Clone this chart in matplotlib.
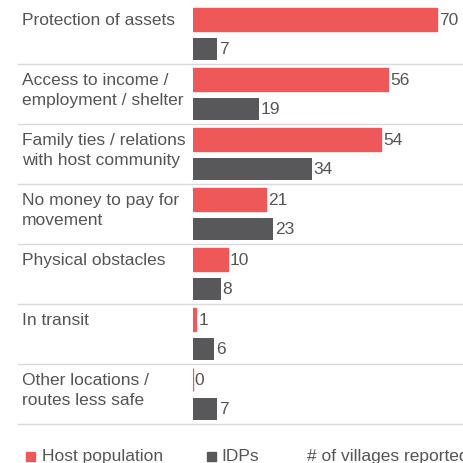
import matplotlib.pyplot as plt
from matplotlib.transforms import blended_transform_factory
from matplotlib.patches import Rectangle

plt.rcParams['font.family'] = ['Liberation Sans', 'DejaVu Sans']

# reasons for choosing to stay
categories = ["Protection of assets",
              "Access to income /\nemployment / shelter",
              "Family ties / relations\nwith host community",
              "No money to pay for\nmovement",
              "Physical obstacles",
              "In transit",
              "Other locations /\nroutes less safe"]
host = [70, 56, 54, 21, 10, 1, 0]
idps = [7, 19, 34, 23, 8, 6, 7]

red = "#EE5859"
dark = "#58585A"
txt = "#555555"
grid = "#D9D9D9"
fs = 12.5

W = 464
fig = plt.figure(figsize=(4.64, 4.64), dpi=100)
ax = fig.add_axes([193 / W, 0, 271 / W, 1])
ax.set_xlim(0, 77.7)
ax.set_ylim(7.65, -0.083)
ax.axis('off')

n = len(categories)
pos = list(range(n))
ax.barh([p + 0.258 for p in pos], host, height=0.383, color=red,
        edgecolor=red, linewidth=1.0)
ax.barh([p + 0.75 for p in pos], idps, height=0.367, color=dark)

for p, v in zip(pos, host):
    ax.text(v + 0.5, p + 0.258, str(v), va='center', ha='left', fontsize=fs, color=txt)
for p, v in zip(pos, idps):
    ax.text(v + 0.5, p + 0.75, str(v), va='center', ha='left', fontsize=fs, color=txt)

# category labels and separators in figure x
tr = blended_transform_factory(fig.transFigure, ax.transData)
for p, lab in zip(pos, categories):
    ax.text(22 / W, p + 0.14, lab, transform=tr, va='top', ha='left',
            fontsize=fs, color=txt, linespacing=1.4)
    ax.plot([18 / W, 1], [p + 1, p + 1], transform=tr, color=grid,
            lw=1, clip_on=False)

# legend
y0 = 1 - 462 / W
fig.add_artist(Rectangle((26 / W, y0), 9 / W, 9 / W, transform=fig.transFigure,
                         color=red))
fig.text(42 / W, 1 - 457 / W, "Host population", fontsize=fs, color=txt, va='center')
fig.add_artist(Rectangle((207 / W, y0), 9 / W, 9 / W, transform=fig.transFigure,
                         color=dark))
fig.text(221 / W, 1 - 457 / W, "IDPs", fontsize=fs, color=txt, va='center')
fig.text(307 / W, 1 - 457 / W, "# of villages reported", fontsize=fs, color=txt,
         va='center')

fig.savefig("out.png", dpi=100)
